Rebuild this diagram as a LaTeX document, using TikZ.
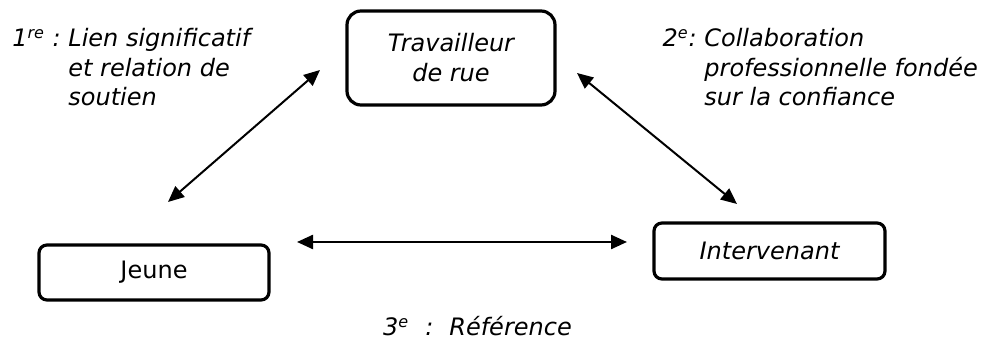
\documentclass[tikz,border=0pt]{standalone}
\usepackage{fontspec}
\setmainfont{DejaVu Sans}
\usetikzlibrary{arrows.meta}

\tikzset{
  acteur/.style={draw, line width=1.6pt, rounded corners=4pt, align=center,
    inner sep=0pt, font=\fontsize{12}{15}\selectfont},
  acteurit/.style={acteur, font=\fontsize{12}{15}\selectfont\itshape},
  lien/.style={{Triangle[length=8pt,width=7pt]}-{Triangle[length=8pt,width=7pt]},
    line width=1pt},
  etiquette/.style={inner sep=0pt, font=\fontsize{12}{14.75}\selectfont\itshape}
}

\begin{document}
\begin{tikzpicture}[x=0.5pt,y=-0.5pt]
\useasboundingbox (0,0) rectangle (982,341);

% acteurs
\node[acteurit, rounded corners=7pt, minimum width=104pt, minimum height=47pt]
  (travailleur) at (451,58) {Travailleur\\de rue};
\node[acteur, minimum width=115pt, minimum height=27.5pt]
  (jeune) at (154,272.5) {Jeune};
\node[acteurit, minimum width=115.5pt, minimum height=28pt]
  (intervenant) at (769.5,251) {Intervenant};

% bouts des liens
\coordinate (jeuneT) at (168,202);
\coordinate (travJ) at (320,70);
\coordinate (travI) at (577,73);
\coordinate (interT) at (737,204);
\coordinate (jeuneI) at (297,242);
\coordinate (interJ) at (627,242);

\draw[lien] (jeuneT) -- (travJ);
\draw[lien] (travI) -- (interT);
\draw[lien, line width=1.2pt] (jeuneI) -- (interJ);

% etiquettes
\node[etiquette, anchor=base west] (lien1) at (68,47)
  {\begin{tabular}[t]{@{}l@{}}\llap{1\textsuperscript{re} :\ }Lien significatif\\
  et relation de\\ soutien\end{tabular}};
\node[etiquette, anchor=base west] (lien2) at (704,47)
  {\begin{tabular}[t]{@{}l@{}}\llap{2\textsuperscript{e}:\ }Collaboration\\
  professionnelle fondée\\ sur la confiance\end{tabular}};
\node[etiquette, anchor=base] (lien3) at (477.5,336)
  {3\textsuperscript{e}\hspace{8pt}:\hspace{8pt}Référence};
\end{tikzpicture}
\end{document}
